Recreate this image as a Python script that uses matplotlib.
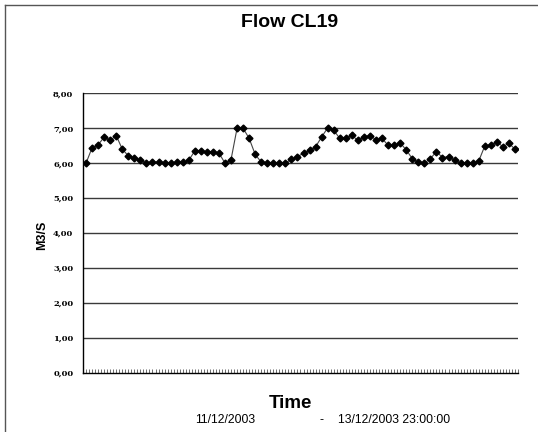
"""Flow CL19 - hourly flow from 11/12/2003 to 13/12/2003 23:00."""
import numpy as np
import matplotlib
matplotlib.use("Agg")
import matplotlib.pyplot as plt
from matplotlib.lines import Line2D

# Hourly flow values [M3/S], 72 samples
flow = [
    6.00, 6.44, 6.52, 6.75, 6.65, 6.79, 6.40, 6.21, 6.16, 6.08,
    6.00, 6.03, 6.03, 6.00, 6.00, 6.02, 6.02, 6.08, 6.35, 6.35,
    6.32, 6.32, 6.29, 6.00, 6.10, 7.00, 7.00, 6.71, 6.25, 6.03,
    6.00, 6.00, 6.00, 6.00, 6.11, 6.19, 6.28, 6.37, 6.47, 6.75,
    7.01, 6.94, 6.71, 6.71, 6.80, 6.65, 6.75, 6.79, 6.67, 6.71,
    6.51, 6.51, 6.58, 6.38, 6.13, 6.02, 6.00, 6.13, 6.33, 6.16,
    6.19, 6.08, 6.00, 6.00, 6.00, 6.06, 6.49, 6.52, 6.61, 6.47,
    6.57, 6.40,
]
y_ticks = [0, 1, 2, 3, 4, 5, 6, 7, 8]
y_ticklabels = ["{:.2f}".format(v).replace(".", ",") for v in y_ticks]
title = "Flow CL19"
ylabel = "M3/S"
xlabel = "Time"
date_start = "11/12/2003"
date_end = "13/12/2003 23:00:00"

n = len(flow)
x = np.arange(n) + 0.5

fig = plt.figure(figsize=(5.38, 4.32), dpi=100)
ax = fig.add_axes([0.1543, 0.1373, 0.8085, 0.6467])

ax.plot(x, flow, color="#444444", lw=0.8, marker="D", ms=3.5,
        mfc="black", mec="black", zorder=3)

ax.set_xlim(0, n)
ax.set_ylim(0, 8)
ax.set_yticks(y_ticks)
ax.set_yticklabels(y_ticklabels, family="DejaVu Serif",
                   fontweight="bold", fontsize=6)
ax.tick_params(axis="y", length=0, pad=7)

# category ticks drawn inside the plot, no labels
ax.set_xticks(np.arange(0, n + 0.5, 0.5))
ax.set_xticklabels([])
ax.tick_params(axis="x", direction="in", length=3, width=0.6,
               color="#555555")

for v in y_ticks[1:]:
    ax.axhline(v, color="#3a3a3a", lw=1.0, zorder=1)

for side in ("top", "right"):
    ax.spines[side].set_visible(False)
ax.spines["left"].set_color("black")
ax.spines["bottom"].set_color("black")
ax.spines["left"].set_linewidth(1.0)
ax.spines["bottom"].set_linewidth(1.0)

fig.text(0.539, 0.948, title, ha="center", va="center",
         family="Liberation Sans", fontweight="bold", fontsize=14)
fig.text(0.078, 0.455, ylabel, ha="center", va="center", rotation=90,
         family="Liberation Sans", fontweight="bold", fontsize=9)
fig.text(0.539, 0.067, xlabel, ha="center", va="center",
         family="Liberation Sans", fontweight="bold", fontsize=13.5)
fig.text(0.362, 0.027, date_start, ha="left", va="center",
         family="Liberation Sans", fontsize=8.7)
fig.text(0.598, 0.027, "-", ha="center", va="center",
         family="Liberation Sans", fontsize=8.7)
fig.text(0.628, 0.027, date_end, ha="left", va="center",
         family="Liberation Sans", fontsize=8.7)

# outer chart frame (only left and top edges are visible)
x0 = 5 / 538
y0 = 1 - 5 / 432
fig.add_artist(Line2D([x0, 1], [y0, y0], transform=fig.transFigure,
                      color="#555555", lw=1.0))
fig.add_artist(Line2D([x0, x0], [0, y0], transform=fig.transFigure,
                      color="#555555", lw=1.0))

fig.savefig("out.png", dpi=100)
